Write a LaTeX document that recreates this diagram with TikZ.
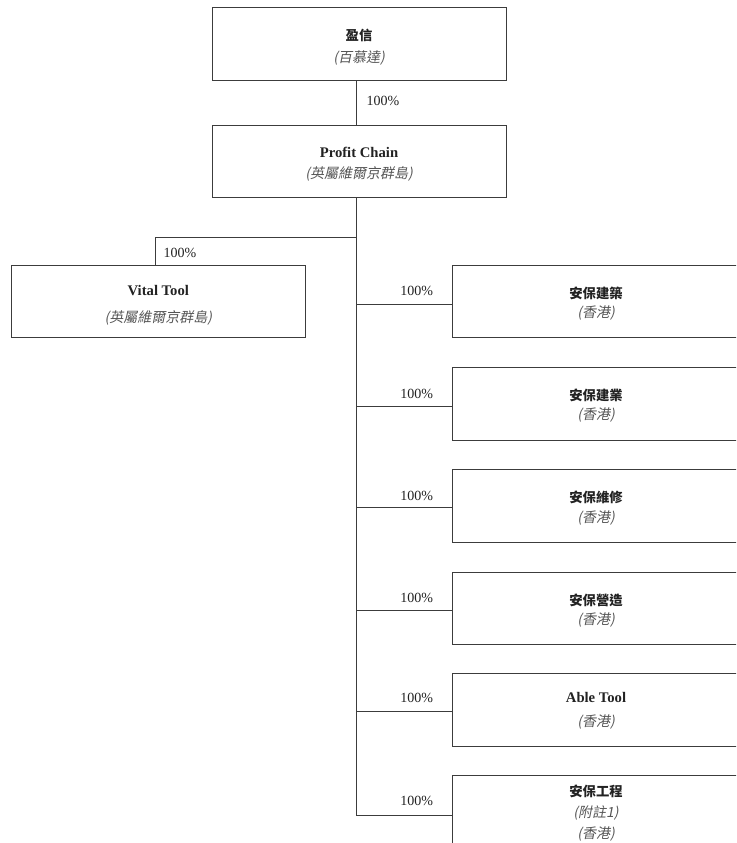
\documentclass[tikz,border=0pt]{standalone}
\usepackage{fontspec}
\setmainfont{Liberation Serif}
\newfontfamily\cjk{Noto Sans CJK TC}
\newfontfamily\cjkit[FakeSlant=0.2]{Noto Sans CJK TC}
\definecolor{linec}{HTML}{3C3C3C}
\definecolor{txt}{HTML}{222222}
\definecolor{itxt}{HTML}{555555}
\newcommand{\cjkbold}[1]{{\fontsize{10}{10}\selectfont\cjk\bfseries #1}}
\newcommand{\cjkital}[1]{{\fontsize{10.5}{10}\selectfont\cjkit\color{itxt}#1}}
\newcommand{\latbold}[1]{{\fontsize{11}{10}\selectfont\bfseries #1}}
\begin{document}
\begin{tikzpicture}[x=0.75pt,y=-0.75pt,
  box/.style={draw=linec, line width=0.75pt, inner sep=0pt,
    minimum width=220.5pt, minimum height=54.5pt},
  rbox/.style={box, minimum width=216pt},
  btext/.style={inner sep=0pt, align=center, text=txt},
  conn/.style={draw=linec, line width=0.75pt},
  pct/.style={font=\fontsize{10.5}{12}\selectfont, text=txt, inner sep=0pt}]
\useasboundingbox (0,0) rectangle (736,843);
\clip (0,0) rectangle (736,843);

% boxes
\node[box] (yx) at (359,44) {};
\node[box] (pc) at (359,161.5) {};
\node[box] (vt) at (158.3,301.5) {};
\node[rbox] (r1) at (596,301.5) {};
\node[rbox] (r2) at (596,403.8) {};
\node[rbox] (r3) at (596,506.1) {};
\node[rbox] (r4) at (596,608.4) {};
\node[rbox] (r5) at (596,709.7) {};
\node[rbox] (r6) at (596,812) {};

% box texts
\node[btext, font=\fontsize{10.5}{16.5}\selectfont] (yxt) at ([yshift=-2.25pt]yx.center) {\cjkbold{盈信}\\\cjkital{(百慕達)}};
\node[btext, font=\fontsize{10.5}{15.8}\selectfont] (pct) at ([yshift=-1.9pt]pc.center) {\latbold{Profit Chain}\\\cjkital{(英屬維爾京群島)}};
\node[btext, font=\fontsize{10.5}{20}\selectfont] (vtt) at ([yshift=-3pt]vt.center) {\latbold{Vital Tool}\\\cjkital{(英屬維爾京群島)}};
\node[btext, font=\fontsize{10.5}{14.5}\selectfont] (r1t) at ([yshift=-1.5pt]r1.center) {\cjkbold{安保建築}\\\cjkital{(香港)}};
\node[btext, font=\fontsize{10.5}{14.5}\selectfont] (r2t) at ([yshift=-1.5pt]r2.center) {\cjkbold{安保建業}\\\cjkital{(香港)}};
\node[btext, font=\fontsize{10.5}{14.5}\selectfont] (r3t) at ([yshift=-1.5pt]r3.center) {\cjkbold{安保維修}\\\cjkital{(香港)}};
\node[btext, font=\fontsize{10.5}{14.5}\selectfont] (r4t) at ([yshift=-1.5pt]r4.center) {\cjkbold{安保營造}\\\cjkital{(香港)}};
\node[btext, font=\fontsize{10.5}{17.5}\selectfont] (r5t) at ([yshift=-0.8pt]r5.center) {\latbold{Able Tool}\\\cjkital{(香港)}};
\node[btext, font=\fontsize{10.5}{15.5}\selectfont] (r6t) at ([yshift=-0.7pt]r6.center) {\cjkbold{安保工程}\\\cjkital{(附註1)}\\\cjkital{(香港)}};

% junction coordinates
\coordinate (tx) at (356,0);
\coordinate (vj) at (155,237.3);
\coordinate (b1) at (452,304);
\coordinate (b2) at (452,406.5);
\coordinate (b3) at (452,507.5);
\coordinate (b4) at (452,610);
\coordinate (b5) at (452,711);
\coordinate (b6) at (452,815);

% connectors
\draw[conn] (yx.south -| tx) -- (pc.north -| tx);
\draw[conn] (pc.south -| tx) -- (tx |- b6);
\draw[conn] (tx |- vj) -- (vj) -- (vj |- vt.north);
\foreach \b in {b1,b2,b3,b4,b5,b6}{\draw[conn] (tx |- \b) -- (\b);}

% labels
\node[pct] (l0) at (383,101) {100\%};
\node[pct] (lv) at (180,253) {100\%};
\node[pct] (l1) at (416.7,290.5) {100\%};
\node[pct] (l2) at (416.7,393.5) {100\%};
\node[pct] (l3) at (416.7,495.5) {100\%};
\node[pct] (l4) at (416.7,597.5) {100\%};
\node[pct] (l5) at (416.7,698) {100\%};
\node[pct] (l6) at (416.7,800.5) {100\%};
\end{tikzpicture}
\end{document}
